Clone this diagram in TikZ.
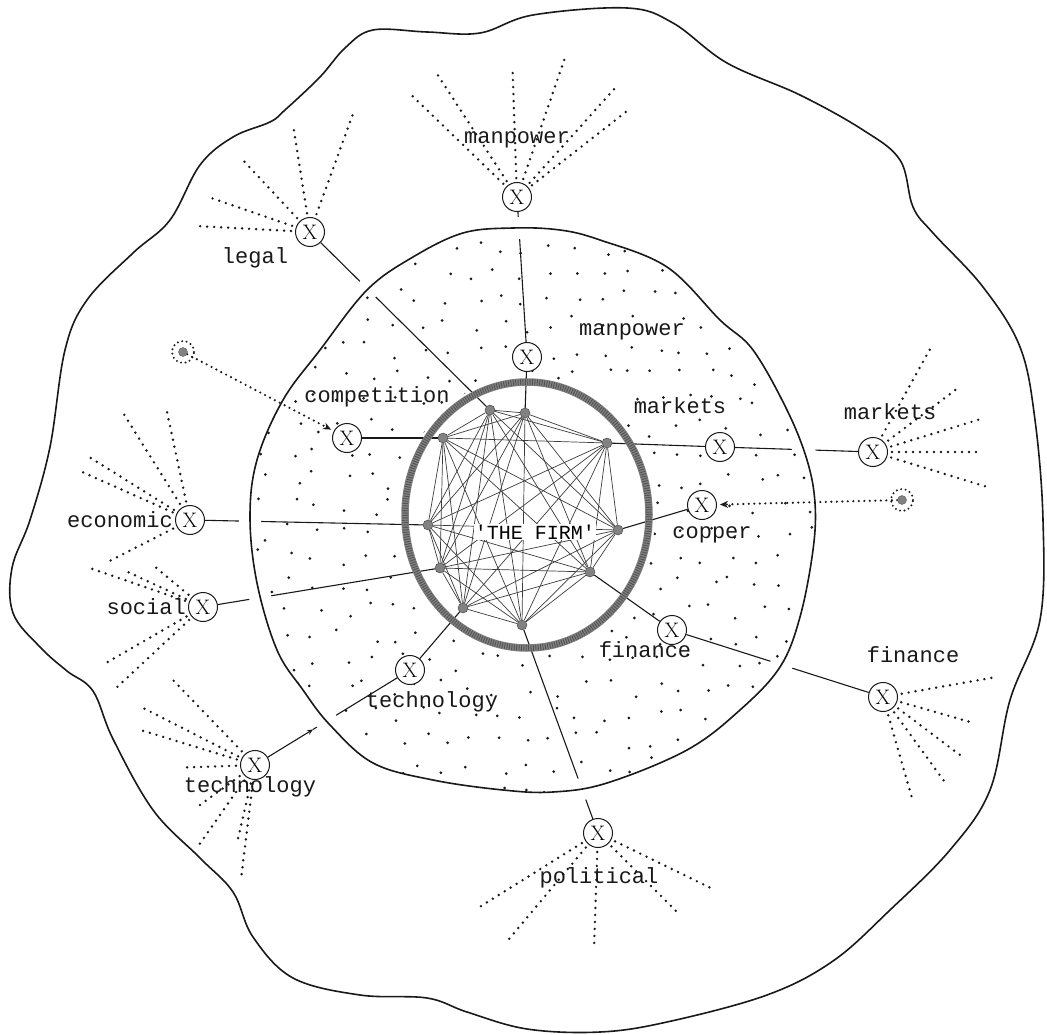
\documentclass[tikz,border=0pt]{standalone}
\usepackage{fontspec}
\setmonofont{Liberation Mono}
\usepackage{xcolor}
\definecolor{ink}{RGB}{25,25,25}
\definecolor{ringgray}{RGB}{130,130,130}
\usepackage{tikz}
\usetikzlibrary{arrows.meta,positioning,shapes.geometric,backgrounds,calc}
\tikzset{
  xnode/.style={draw=ink,line width=1pt,circle,fill=white,inner sep=0pt,%
    minimum size=29pt,font=\fontsize{21}{21}\selectfont},
  lbl/.style={font=\ttfamily\fontsize{22}{22}\selectfont,text=ink,inner sep=1pt},
  fnode/.style={draw=ink!85,circle,fill=ringgray,inner sep=0pt,minimum size=10pt},
  src/.style={draw=ink!70,circle,fill=ringgray,inner sep=0pt,minimum size=9pt},
  firmring/.style={ellipse,draw=ringgray,line width=7.5pt,inner sep=0pt,%
    minimum width=244pt,minimum height=266pt,%
    postaction={draw=ink!75,line width=6pt,dash pattern=on 0.9pt off 1.5pt}},
  link/.style={draw=ink,line width=1.1pt},
  web/.style={draw=ink!85,line width=0.7pt},
  rim/.style={draw=ink,line width=1.6pt},
  ray/.style={draw=ink,line width=2.7pt,line cap=round,dash pattern=on 0pt off 7pt},
  feed/.style={draw=ink,line width=2.4pt,line cap=round,dash pattern=on 0pt off 5.5pt,%
    -{Stealth[length=8pt,width=7pt,fill=ringgray]},shorten >=3pt},
}
\def\innerrim{plot[smooth cycle,tension=0.6] coordinates {(320,350) (367,290)
  (413,257) (463,233) (513,228) (560,230) (600,240) (667,267) (720,320) (753,350)
  (787,410) (807,460) (815,503) (813,550) (800,617) (780,667) (740,710) (687,750)
  (607,783) (553,792) (503,790) (433,780) (373,763) (330,725) (303,690) (277,650)
  (257,583) (250,517) (257,460) (283,400)}}
\def\outerrim{plot[smooth cycle,tension=0.6] coordinates {(373,30) (427,32)
  (480,33) (533,15) (627,8) (673,23) (727,63) (800,95) (863,130) (900,160)
  (913,207) (933,233) (983,287) (1020,347) (1035,420) (1043,520) (1040,620)
  (1010,700) (990,790) (950,850) (890,910) (833,961) (767,995) (667,1022)
  (600,1032) (527,1029) (467,1012) (427,998) (360,995) (293,978) (253,937)
  (233,892) (200,858) (153,810) (113,739) (93,691) (67,671) (40,647) (13,613)
  (12,568) (30,520) (50,447) (65,350) (87,300) (133,253) (170,220) (200,165)
  (233,137) (270,122) (285,110) (320,77) (345,48)}}

\begin{document}
\begin{tikzpicture}[x=1pt,y=-1pt]
\useasboundingbox (0,0) rectangle (1047,1035);

% outer and inner X points
\node[xnode] (mpO) at (517,197) {X};
\node[xnode] (lgl) at (310,232) {X};
\node[xnode] (mpI) at (527,357) {X};
\node[xnode] (cmp) at (347,438) {X};
\node[xnode] (mkI) at (720,447) {X};
\node[xnode] (mkO) at (873,452) {X};
\node[xnode] (cop) at (702,505) {X};
\node[xnode] (eco) at (190,520) {X};
\node[xnode] (soc) at (203,607) {X};
\node[xnode] (fnI) at (672,630) {X};
\node[xnode] (tcI) at (410,670) {X};
\node[xnode] (fnO) at (883,697) {X};
\node[xnode] (tcO) at (255,765) {X};
\node[xnode] (pol) at (598,833) {X};

\node[lbl] (lMpO) at (517,140) {manpower};
\node[lbl] (lLgl) at (255,258) {legal};
\node[lbl] (lMpI) at (632,332) {manpower};
\node[lbl] (lCmp) at (377,397) {competition};
\node[lbl] (lMkI) at (680,406) {markets};
\node[lbl] (lMkO) at (890,412) {markets};
\node[lbl] (lCop) at (712,535) {copper};
\node[lbl,left=1pt of eco] (lEco) {economic};
\node[lbl,left=1pt of soc] (lSoc) {social};
\node[lbl] (lFnI) at (645,650) {finance};
\node[lbl] (lFnO) at (913,655) {finance};
\node[lbl] (lTcI) at (432,702) {technology};
\node[lbl] (lTcO) at (250,787) {technology};
\node[lbl] (lPol) at (599,878) {political};

% the firm
\node[firmring] (ring) at (527,515) {};
\foreach \n/\p in {1/{490,410},2/{525,413},3/{443,438},4/{607,443},5/{428,525},
    6/{618,530},7/{440,568},8/{590,572},9/{463,608},10/{522,625}}
  \node[fnode] (f\n) at (\p) {};
\node[fill=white,inner sep=1pt,font=\ttfamily\fontsize{20}{20}\selectfont]
  (firm) at (535,532) {'THE FIRM'};

\node[src] (sC) at (183,352) {};
\node[src] (sK) at (902,500) {};

\begin{scope}[on background layer]
  \path (tcO) -- (tcI) coordinate[pos=0.35] (tcA);
  \draw[link] (lgl) -- (f1);
  \draw[link] (mpO) -- (mpI);
  \draw[link] (mpI) -- (f2);
  \draw[link] (cmp) -- (f3);
  \draw[link] (f4) -- (mkI);
  \draw[link] (mkI) -- (mkO);
  \draw[link] (f6) -- (cop);
  \draw[link] (eco) -- (f5);
  \draw[link] (soc) -- (f7);
  \draw[link,-{Stealth[open,length=6pt,width=5pt]}] (tcO) -- (tcA);
  \draw[link] (tcA) -- (tcI);
  \draw[link] (tcI) -- (f9);
  \draw[link] (f10) -- (pol);
  \draw[link] (f8) -- (fnI);
  \draw[link] (fnI) -- (fnO);

  \draw[rim,preaction={draw=white,line width=22pt}] \innerrim;
  \draw[rim] \outerrim;

  % stippled environment
  \begin{scope}[even odd rule]
    \clip \innerrim (527,515) ellipse [x radius=128pt,y radius=139pt];
    \pgfmathsetseed{42}
    \foreach \i in {0,...,22}{
      \foreach \j in {0,...,22}{
        \pgfmathsetmacro\px{240+26*\i+9*rand}
        \pgfmathsetmacro\py{220+26*\j+9*rand}
        \fill[ink] (\px,\py) circle (1.5pt);
      }
    }
  \end{scope}

  \foreach \a in {1,...,9}{
    \pgfmathtruncatemacro\s{\a+1}
    \foreach \b in {\s,...,10}
      \draw[web] (f\a) -- (f\b);
  }

  % dotted rays
  \foreach \a/\l in {177/93pt,161/90pt,133/81pt,99/89pt,70/108pt}
    \draw[ray] (lgl.\a) ++(\a:4pt) -- ++(\a:\l);
  \foreach \a/\l in {136/132pt,123/127pt,92/110pt,71/126pt,48/130pt,38/120pt}
    \draw[ray] (mpO.\a) ++(\a:4pt) -- ++(\a:\l);
  \foreach \a/\l in {61/98pt,37/88pt,17/95pt,0/91pt,-17/101pt}
    \draw[ray] (mkO.\a) ++(\a:4pt) -- ++(\a:\l);
  \foreach \a/\l in {10/93pt,-16/74pt,-37/83pt,-54/90pt,-74/90pt}
    \draw[ray] (fnO.\a) ++(\a:4pt) -- ++(\a:\l);
  \foreach \a/\l in {212/122pt,230/124pt,268/98pt,315/97pt,334/108pt}
    \draw[ray] (pol.\a) ++(\a:4pt) -- ++(\a:\l);
  \foreach \a/\l in {122/109pt,102/95pt,148/99pt,156/101pt,207/70pt}
    \draw[ray] (eco.\a) ++(\a:4pt) -- ++(\a:\l);
  \foreach \a/\l in {161/103pt,155/67pt,140/46pt,210/97pt,223/99pt}
    \draw[ray] (soc.\a) ++(\a:4pt) -- ++(\a:\l);
  \foreach \a/\l in {134/100pt,153/107pt,163/103pt,182/53pt,216/49pt,235/80pt,257/58pt,263/97pt}
    \draw[ray] (tcO.\a) ++(\a:4pt) -- ++(\a:\l);

  \draw[ray,line width=2.2pt,dash pattern=on 0pt off 4.5pt] (sC) circle (11pt);
  \draw[ray,line width=2.2pt,dash pattern=on 0pt off 4.5pt] (sK) circle (11pt);
  \draw[feed] (sC) -- (cmp);
  \draw[feed] (sK) -- (cop);
\end{scope}
\end{tikzpicture}
\end{document}
